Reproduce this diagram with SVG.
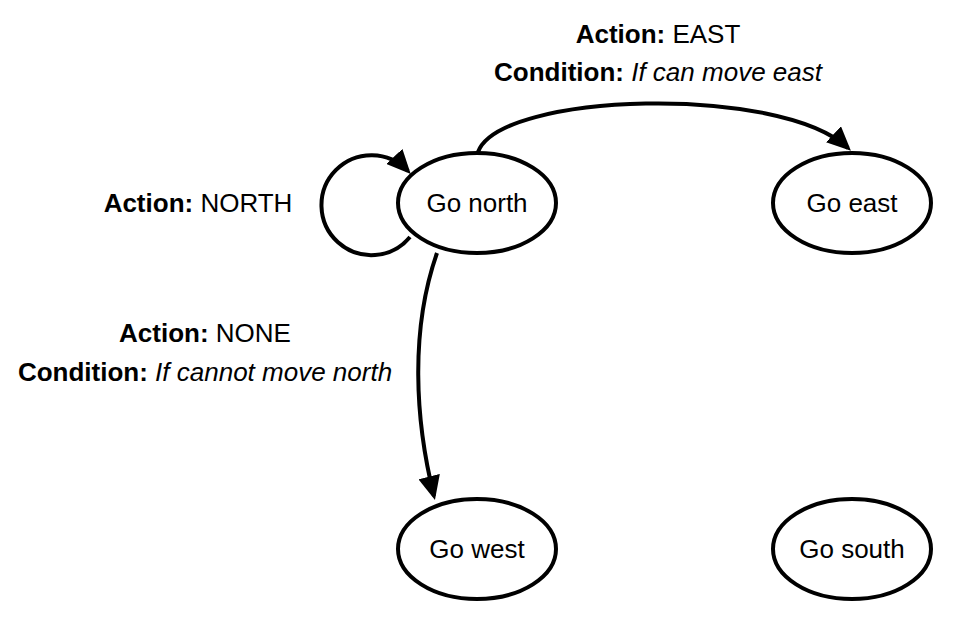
<svg xmlns="http://www.w3.org/2000/svg" width="975" height="634" viewBox="0 0 975 634">
<style>
  .node { fill: #fff; stroke: #000; stroke-width: 4; }
  .edge { fill: none; stroke: #000; stroke-width: 4; }
  .nt { font-family: "Liberation Sans", Arial, sans-serif; font-size: 26px; fill: #000; text-anchor: middle; }
  .lbl { font-family: "Liberation Sans", Arial, sans-serif; font-size: 26px; fill: #000; text-anchor: middle; }
  .b { font-weight: bold; }
  .i { font-style: italic; }
</style>
<defs>
  <marker id="arrow" markerWidth="6" markerHeight="5.5" refX="5" refY="2.75" orient="auto" markerUnits="strokeWidth">
    <path d="M0,0 L6,2.75 L0,5.5 Z" fill="#000"/>
  </marker>
</defs>
<rect width="975" height="634" fill="#fff"/>
<g id="connectors">
  <path class="edge" d="M410,237 A50,50 0 1 1 408,171" marker-end="url(#arrow)"/>
  <path class="edge" d="M478,152 C500,92 780,84 848,148" marker-end="url(#arrow)"/>
  <path class="edge" d="M437,253 C410,330 415,420 434,496" marker-end="url(#arrow)"/>
</g>
<g id="label-north">
  <text class="lbl" x="198" y="212"><tspan class="b">Action:</tspan> NORTH</text>
</g>
<g id="label-east">
  <text class="lbl" x="658" y="43"><tspan class="b">Action:</tspan> EAST</text>
  <text class="lbl" x="658" y="81"><tspan class="b">Condition:</tspan> <tspan class="i">If can move east</tspan></text>
</g>
<g id="label-none">
  <text class="lbl" x="205" y="342"><tspan class="b">Action:</tspan> NONE</text>
  <text class="lbl" x="205" y="381"><tspan class="b">Condition:</tspan> <tspan class="i">If cannot move north</tspan></text>
</g>
<g id="go-north">
  <ellipse class="node" cx="477" cy="203" rx="79" ry="50"/>
  <text class="nt" x="477" y="212">Go north</text>
</g>
<g id="go-east">
  <ellipse class="node" cx="852" cy="203" rx="79" ry="50"/>
  <text class="nt" x="852" y="212">Go east</text>
</g>
<g id="go-west">
  <ellipse class="node" cx="477" cy="549" rx="79" ry="50"/>
  <text class="nt" x="477" y="558">Go west</text>
</g>
<g id="go-south">
  <ellipse class="node" cx="852" cy="549" rx="79" ry="50"/>
  <text class="nt" x="852" y="558">Go south</text>
</g>
</svg>
